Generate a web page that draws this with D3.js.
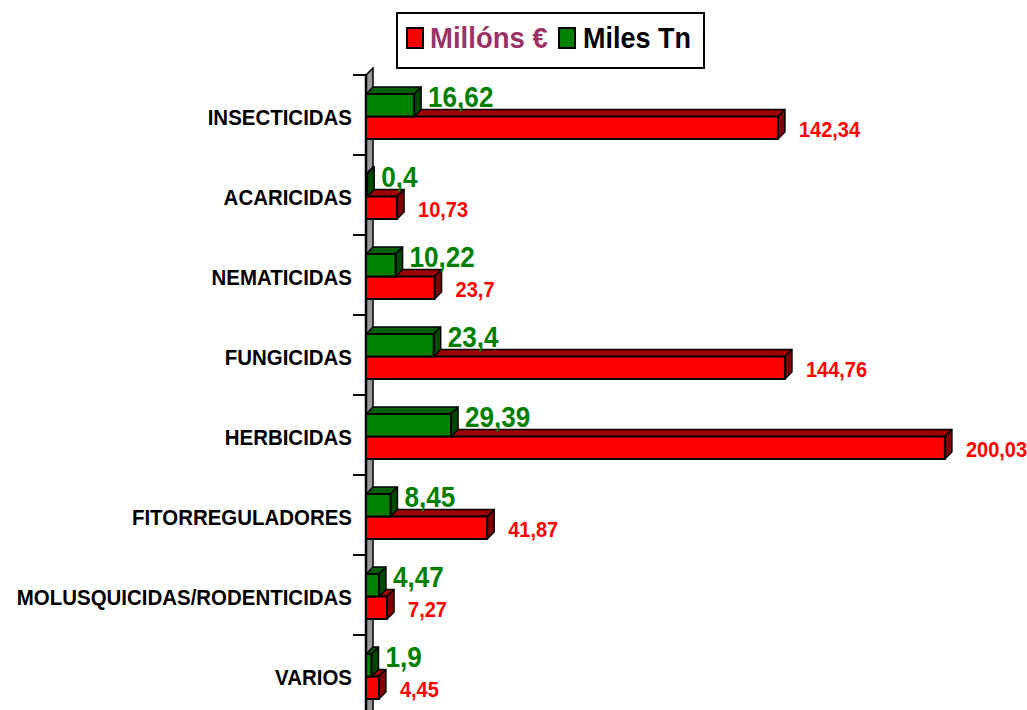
<!DOCTYPE html>
<html>
<head>
<meta charset="utf-8">
<script src="https://cdn.jsdelivr.net/npm/d3@7"></script>
<style>
html,body{margin:0;padding:0;background:#fff;overflow:hidden;}
svg{display:block;}
text{font-family:"Liberation Sans",Arial,sans-serif;font-weight:bold;}
</style>
</head>
<body>
<svg id="chart" width="1027" height="710"></svg>
<script>
const categories = ["INSECTICIDAS","ACARICIDAS","NEMATICIDAS","FUNGICIDAS","HERBICIDAS","FITORREGULADORES","MOLUSQUICIDAS/RODENTICIDAS","VARIOS"];
const millonsEur = [142.34,10.73,23.7,144.76,200.03,41.87,7.27,4.45];
const milesTn = [16.62,0.4,10.22,23.4,29.39,8.45,4.47,1.9];
const seriesNames = ["Millóns €","Miles Tn"];

const svg = d3.select("#chart");
const depth = 7;
const x = d3.scaleLinear().domain([0, 220]).range([366, 366 + 220 * 2.894]);
const y = d3.scaleBand().domain(categories).range([75, 715]);
const inner = d3.scaleBand().domain(["tn","eur"]).range([19, 64]);
const fmt = v => String(v).replace(".", ",");

function sText(g, px, py, str, size, fill, anchor, sx) {
  g.append("g").attr("transform", `translate(${px},${py})`)
    .append("text").attr("transform", `scale(${sx},1)`)
    .attr("text-anchor", anchor).attr("font-size", size).attr("fill", fill).text(str);
}

// wall (left side, 3D)
const x0 = x(0);
const yTop = y.range()[0], yBot = y.range()[1];
svg.append("polygon")
  .attr("points", `${x0},${yTop} ${x0+depth},${yTop-depth} ${x0+depth},${yBot} ${x0},${yBot}`)
  .attr("fill", "#999999").attr("stroke", "#000").attr("stroke-width", 1.5);
svg.append("line").attr("x1", x0).attr("x2", x0).attr("y1", yTop).attr("y2", yBot)
  .attr("stroke", "#000").attr("stroke-width", 2.5);

// ticks at band boundaries
const tickYs = categories.map(c => y(c)).concat([yBot]);
svg.selectAll(".tick").data(tickYs).enter().append("line")
  .attr("x1", x0 - 13).attr("x2", x0).attr("y1", d => d).attr("y2", d => d)
  .attr("stroke", "#000").attr("stroke-width", 2);

// category labels
const labG = svg.append("g");
categories.forEach(c => sText(labG, 352, y(c) + 50, c, 22, "#000", "end", 0.93));

// 3D bars
function bar3d(g, xEnd, yy, h, front, top, side) {
  const xs = x0;
  g.append("polygon")
    .attr("points", `${xs},${yy} ${xs+depth},${yy-depth} ${xEnd+depth},${yy-depth} ${xEnd},${yy}`)
    .attr("fill", top).attr("stroke", "#000").attr("stroke-width", 1.5).attr("stroke-linejoin", "round");
  g.append("polygon")
    .attr("points", `${xEnd},${yy} ${xEnd+depth},${yy-depth} ${xEnd+depth},${yy+h-depth} ${xEnd},${yy+h}`)
    .attr("fill", side).attr("stroke", "#000").attr("stroke-width", 1.5).attr("stroke-linejoin", "round");
  g.append("rect").attr("x", xs).attr("y", yy).attr("width", Math.max(0, xEnd - xs)).attr("height", h)
    .attr("fill", front).attr("stroke", "#000").attr("stroke-width", 2);
}

const barsG = svg.append("g");
categories.forEach((c, i) => {
  const b = y(c);
  bar3d(barsG, x(millonsEur[i]), b + inner("eur"), inner.bandwidth(), "#ff0000", "#a00000", "#800000");
  bar3d(barsG, x(milesTn[i]), b + inner("tn"), inner.bandwidth(), "#008000", "#006000", "#004a00");
});

// value labels
const valG = svg.append("g");
categories.forEach((c, i) => {
  const b = y(c);
  sText(valG, x(millonsEur[i]) + 21, b + 62, fmt(millonsEur[i]), 22, "#ff0000", "start", 0.91);
  sText(valG, x(milesTn[i]) + 14, b + 32, fmt(milesTn[i]), 29, "#008000", "start", 0.9);
});

// legend
const lg = svg.append("g");
lg.append("rect").attr("x", 397).attr("y", 13).attr("width", 307).attr("height", 55)
  .attr("fill", "#fff").attr("stroke", "#000").attr("stroke-width", 2);
lg.append("rect").attr("x", 407).attr("y", 28).attr("width", 16).attr("height", 20)
  .attr("fill", "#ff0000").attr("stroke", "#000").attr("stroke-width", 2);
sText(lg, 430, 48, seriesNames[0], 29, "#993366", "start", 0.95);
lg.append("rect").attr("x", 559).attr("y", 28).attr("width", 16).attr("height", 20)
  .attr("fill", "#008000").attr("stroke", "#000").attr("stroke-width", 2);
sText(lg, 583, 48, seriesNames[1], 29, "#000", "start", 0.93);
</script>
</body>
</html>
